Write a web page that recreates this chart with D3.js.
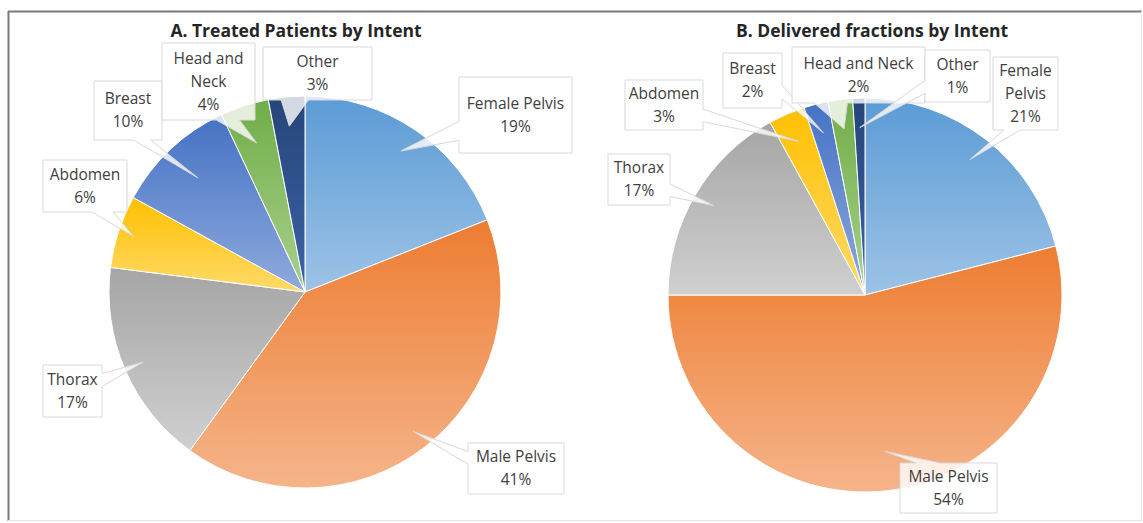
<!DOCTYPE html>
<html>
<head>
<meta charset="utf-8">
<script src="https://cdn.jsdelivr.net/npm/d3@7"></script>
<style>
  html, body { margin: 0; padding: 0; background: #fff; }
  svg { display: block; font-family: "Open Sans", Lato, sans-serif; }
</style>
</head>
<body>
<svg id="chart" width="1143" height="523"></svg>
<script>
// data
const categories = ['Female Pelvis', 'Male Pelvis', 'Thorax', 'Abdomen', 'Breast', 'Head and Neck', 'Other'];
const patientsPct = [19, 41, 17, 6, 10, 4, 3];
const fractionsPct = [21, 54, 17, 3, 2, 2, 1];
const chartTitles = ['A. Treated Patients by Intent', 'B. Delivered fractions by Intent'];

// excel-like palette: base colour at top, lighter at bottom
const baseColors = ['#5B9BD5', '#ED7D31', '#A5A5A5', '#FFC000', '#4472C4', '#70AD47', '#264478'];
const lightColors = ['#9DC3E6', '#F5B48A', '#D0D0D0', '#FFDA6A', '#8FAADC', '#A9D18E', '#3C64A8'];

// layout of the two pies and their callouts (box x, y, w, h, label lines, tip radius)
const panels = [
  {
    values: patientsPct, title: chartTitles[0], titleX: 296, cx: 305, cy: 292, r: 196,
    callouts: [
      { box: [459, 77, 113, 76], lines: ['Female Pelvis'], tipR: 0.87 },
      { box: [468, 443, 96, 51], lines: ['Male Pelvis'], tipR: 0.9 },
      { box: [43, 365, 59, 52], lines: ['Thorax'], tipR: 0.9 },
      { box: [43, 160, 84, 52], lines: ['Abdomen'], tipR: 0.92 },
      { box: [94, 81, 68, 59], lines: ['Breast'], tipR: 0.8 },
      { box: [162, 43, 93, 77], lines: ['Head and', 'Neck'], tipR: 0.8 },
      { box: [263, 47, 109, 53], lines: ['Other'], tipR: 0.85 }
    ]
  },
  {
    values: fractionsPct, title: chartTitles[1], titleX: 872, cx: 865, cy: 295, r: 197,
    callouts: [
      { box: [993, 57, 65, 73], lines: ['Female', 'Pelvis'], tipR: 0.87 },
      { box: [900, 463, 97, 50], lines: ['Male Pelvis'], tipR: 0.8 },
      { box: [608, 154, 62, 51], lines: ['Thorax'], tipR: 0.89 },
      { box: [625, 80, 78, 50], lines: ['Abdomen'], tipR: 0.85 },
      { box: [723, 53, 59, 55], lines: ['Breast'], tipR: 0.85 },
      { box: [792, 47, 133, 56], lines: ['Head and Neck'], tipR: 0.85 },
      { box: [925, 50, 65, 52], lines: ['Other'], tipR: 0.85 }
    ]
  }
];

const svg = d3.select('#chart');

// outer frame, darker on top/left like the picture
svg.append('line').attr('x1', 8).attr('y1', 11.5).attr('x2', 1142).attr('y2', 11.5)
  .attr('stroke', '#7a7a7a').attr('stroke-width', 2);
svg.append('line').attr('x1', 8.5).attr('y1', 11).attr('x2', 8.5).attr('y2', 521)
  .attr('stroke', '#7a7a7a').attr('stroke-width', 2);
svg.append('line').attr('x1', 1141.5).attr('y1', 11).attr('x2', 1141.5).attr('y2', 521)
  .attr('stroke', '#e4e4e4').attr('stroke-width', 1);
svg.append('line').attr('x1', 8).attr('y1', 520.5).attr('x2', 1142).attr('y2', 520.5)
  .attr('stroke', '#e4e4e4').attr('stroke-width', 1);

const defs = svg.append('defs');
baseColors.forEach((c, i) => {
  const g = defs.append('linearGradient')
    .attr('id', 'grad' + i)
    .attr('x1', 0).attr('y1', 0).attr('x2', 0).attr('y2', 1);
  g.append('stop').attr('offset', '0%').attr('stop-color', c);
  g.append('stop').attr('offset', '100%').attr('stop-color', lightColors[i]);
});

const pie = d3.pie().sort(null).value(d => d);

// wedge callout path, base of the pointer placed like excel's wedgeRectCallout
function calloutPath(x, y, w, h, tx, ty) {
  const cx = x + w / 2, cy = y + h / 2;
  const dx = tx - cx, dy = ty - cy;
  const p = d3.path();
  if (Math.abs(dx) * h > Math.abs(dy) * w) {
    const y1 = dy > 0 ? y + h * 7 / 12 : y + h * 2 / 12;
    const y2 = dy > 0 ? y + h * 10 / 12 : y + h * 5 / 12;
    if (dx < 0) {
      p.moveTo(x, y); p.lineTo(x + w, y); p.lineTo(x + w, y + h); p.lineTo(x, y + h);
      p.lineTo(x, y2); p.lineTo(tx, ty); p.lineTo(x, y1);
    } else {
      p.moveTo(x, y); p.lineTo(x + w, y); p.lineTo(x + w, y1); p.lineTo(tx, ty);
      p.lineTo(x + w, y2); p.lineTo(x + w, y + h); p.lineTo(x, y + h);
    }
  } else {
    const x1 = dx > 0 ? x + w * 7 / 12 : x + w * 2 / 12;
    const x2 = dx > 0 ? x + w * 10 / 12 : x + w * 5 / 12;
    if (dy < 0) {
      p.moveTo(x, y); p.lineTo(x1, y); p.lineTo(tx, ty); p.lineTo(x2, y);
      p.lineTo(x + w, y); p.lineTo(x + w, y + h); p.lineTo(x, y + h);
    } else {
      p.moveTo(x, y); p.lineTo(x + w, y); p.lineTo(x + w, y + h); p.lineTo(x2, y + h);
      p.lineTo(tx, ty); p.lineTo(x1, y + h); p.lineTo(x, y + h);
    }
  }
  p.closePath();
  return p.toString();
}

panels.forEach(panel => {
  const arcs = pie(panel.values);
  const arc = d3.arc().innerRadius(0).outerRadius(panel.r);

  const g = svg.append('g').attr('transform', `translate(${panel.cx},${panel.cy})`);
  g.selectAll('path.slice')
    .data(arcs)
    .enter()
    .append('path')
    .attr('class', 'slice')
    .attr('d', arc)
    .attr('fill', (d, i) => `url(#grad${i})`)
    .attr('stroke', '#fff')
    .attr('stroke-width', 1);

  svg.append('text')
    .attr('x', panel.titleX)
    .attr('y', 37)
    .attr('text-anchor', 'middle')
    .attr('font-size', 17.5)
    .attr('font-weight', 'bold')
    .attr('fill', '#262626')
    .text(panel.title);

  // callouts
  arcs.forEach((a, i) => {
    const c = panel.callouts[i];
    const mid = (a.startAngle + a.endAngle) / 2;
    const tr = panel.r * c.tipR;
    const tx = panel.cx + tr * Math.sin(mid);
    const ty = panel.cy - tr * Math.cos(mid);
    const [bx, by, bw, bh] = c.box;

    svg.append('path')
      .attr('d', calloutPath(bx, by, bw, bh, tx, ty))
      .attr('fill', '#fff')
      .attr('fill-opacity', 0.8)
      .attr('stroke', '#d9d9d9')
      .attr('stroke-width', 1);

    const lines = c.lines.concat([panel.values[i] + '%']);
    const lh = 23;
    const top = by + bh / 2 - (lines.length - 1) * lh / 2;
    const t = svg.append('text')
      .attr('text-anchor', 'middle')
      .attr('font-size', 15.5)
      .attr('fill', '#404040');
    lines.forEach((ln, k) => {
      t.append('tspan')
        .attr('x', bx + bw / 2)
        .attr('y', top + k * lh + 5)
        .text(ln);
    });
  });
});
</script>
</body>
</html>
